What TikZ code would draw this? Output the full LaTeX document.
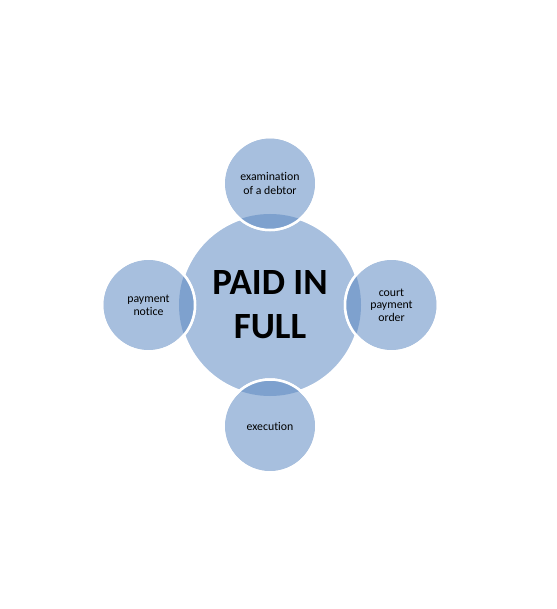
\documentclass[tikz,border=0pt]{standalone}
\usepackage{fontspec}
\setmainfont{Carlito}[Ligatures={NoCommon}]
\definecolor{circfill}{HTML}{A7BFDE}
\definecolor{lensfill}{HTML}{7EA1CE}
\tikzset{
  bigc/.style={circle,draw=white,line width=2.5pt,fill=circfill,minimum size=182pt,inner sep=0pt},
  smallc/.style={circle,draw=white,line width=2.5pt,fill=circfill,minimum size=93pt,inner sep=0pt},
  bigtext/.style={font=\fontsize{37}{44}\selectfont\bfseries,align=center,text=black},
  smalltext/.style={font=\fontsize{11.8}{13.2}\selectfont,align=center,text=black},
}
\newcommand{\lens}[1]{%
  \begin{scope}
    \clip (270,305) circle (91pt);
    \fill[lensfill] (#1) circle (46.5pt);
  \end{scope}
  \draw[white,line width=2.5pt] (#1) circle (46.5pt);
}
\begin{document}
\begin{tikzpicture}[x=1pt,y=-1pt]
\useasboundingbox (0,0) rectangle (556,609);
\node[bigc] (c) at (270,305) {};
\node[smallc] (t) at (270,183.5) {};
\node[smallc] (r) at (391.5,305) {};
\node[smallc] (b) at (270,426) {};
\node[smallc] (l) at (148.5,305) {};
\lens{t}\lens{r}\lens{b}\lens{l}
\node[bigtext] at (c) {PAID IN\\FULL};
\node[smalltext] at (t) {examination\\of a debtor};
\node[smalltext,font=\fontsize{11.8}{12.6}\selectfont] at (r) {court\\payment\\order};
\node[smalltext] at (b) {execution};
\node[smalltext] at (l) {payment\\notice};
\end{tikzpicture}
\end{document}
